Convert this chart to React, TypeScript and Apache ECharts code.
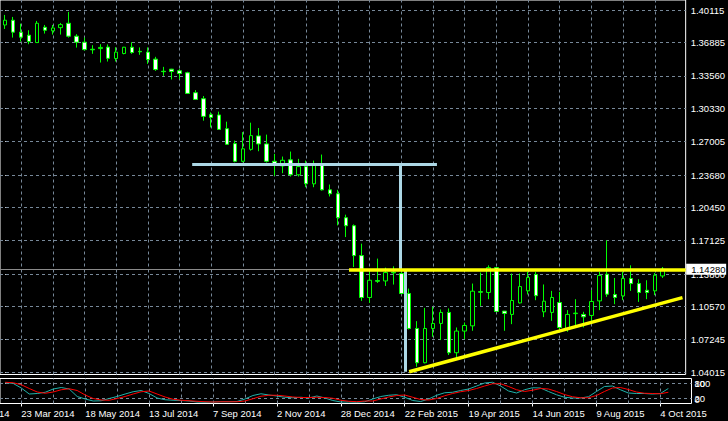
import React, { useEffect, useRef } from "react";
import * as echarts from "echarts";

// Weekly EURUSD-style bars, index 0 = week of 9 Mar 2014
const openP = [
  1.3865, 1.3912, 1.3793, 1.3763, 1.3689, 1.3842, 1.3806, 1.3838, 1.3882, 1.3753,
  1.3693, 1.3623, 1.3629, 1.3644, 1.353, 1.358, 1.3643, 1.3602, 1.3594, 1.3524,
  1.3403, 1.3424, 1.3408, 1.3388, 1.3189, 1.3129, 1.297, 1.2967, 1.283, 1.2681,
  1.2505, 1.2624, 1.2758, 1.2678, 1.2505, 1.2459, 1.2519, 1.237, 1.2452, 1.228,
  1.2479, 1.222, 1.2181, 1.1942, 1.1862, 1.1564, 1.1146, 1.1315, 1.1311, 1.1398,
  1.1385, 1.1186, 1.0837, 1.0495, 1.0837, 1.0887, 1.0997, 1.0595, 1.0811, 1.0863,
  1.1204, 1.1196, 1.1444, 1.101, 1.0977, 1.1092, 1.1212, 1.1375, 1.1003, 1.0997,
  1.1096, 1.0837, 1.0985, 1.0977, 1.0967, 1.1112, 1.1378, 1.1176, 1.1162, 1.1335,
  1.1285, 1.1218, 1.1212, 1.1361,
];
const closeP = [
  1.3912, 1.3793, 1.3743, 1.3699, 1.3882, 1.3812, 1.3835, 1.3868, 1.3753, 1.3693,
  1.3619, 1.3617, 1.3641, 1.3532, 1.3594, 1.3643, 1.359, 1.3597, 1.352, 1.342,
  1.3399, 1.3401, 1.3381, 1.3182, 1.3122, 1.2953, 1.2943, 1.2823, 1.2674, 1.2505,
  1.2629, 1.2761, 1.2678, 1.2505, 1.2477, 1.2515, 1.237, 1.2452, 1.228, 1.2479,
  1.222, 1.2181, 1.1942, 1.1862, 1.1564, 1.1146, 1.1318, 1.1308, 1.1395, 1.1392,
  1.1186, 1.0837, 1.0495, 1.0837, 1.0887, 1.0997, 1.0595, 1.0811, 1.0867, 1.1209,
  1.1199, 1.1444, 1.1007, 1.0987, 1.1116, 1.1255, 1.1345, 1.1164, 1.1109, 1.1146,
  1.0847, 1.0977, 1.099, 1.0953, 1.1106, 1.1365, 1.1179, 1.1146, 1.1335, 1.1285,
  1.1196, 1.1196, 1.1368, 1.1428,
];
const highP = [
  1.3965, 1.3945, 1.3878, 1.3812, 1.3905, 1.3865, 1.3865, 1.3885, 1.3995, 1.3773,
  1.3739, 1.3663, 1.3673, 1.3671, 1.3643, 1.3646, 1.3693, 1.3641, 1.3641, 1.3547,
  1.3447, 1.3427, 1.3424, 1.3398, 1.3215, 1.3156, 1.2993, 1.3, 1.29, 1.2711,
  1.2796, 1.289, 1.2837, 1.2771, 1.2579, 1.2552, 1.2602, 1.2529, 1.2512, 1.2512,
  1.2572, 1.2273, 1.222, 1.1972, 1.1875, 1.1683, 1.1401, 1.1534, 1.1444, 1.1457,
  1.1417, 1.1235, 1.091, 1.1042, 1.1052, 1.1027, 1.1037, 1.0847, 1.0897, 1.1285,
  1.1395, 1.1467, 1.145, 1.101, 1.1385, 1.1385, 1.1401, 1.1401, 1.1276, 1.1212,
  1.1202, 1.102, 1.1129, 1.1003, 1.1219, 1.1401, 1.1716, 1.1341, 1.1401, 1.1467,
  1.1328, 1.1318, 1.1391, 1.145,
];
const lowP = [
  1.3825, 1.3739, 1.3699, 1.3673, 1.3685, 1.3779, 1.3769, 1.3769, 1.3739, 1.3639,
  1.3609, 1.3577, 1.349, 1.35, 1.35, 1.3572, 1.3577, 1.3567, 1.3477, 1.3407,
  1.3358, 1.3321, 1.3325, 1.3176, 1.3116, 1.291, 1.2843, 1.2817, 1.2668, 1.2495,
  1.2495, 1.2611, 1.2605, 1.2492, 1.236, 1.2386, 1.2353, 1.2353, 1.2246, 1.2246,
  1.2213, 1.2154, 1.1865, 1.1749, 1.145, 1.1112, 1.1092, 1.1291, 1.1261, 1.1275,
  1.1179, 1.0827, 1.0455, 1.0489, 1.0754, 1.0721, 1.0572, 1.0539, 1.0731, 1.0814,
  1.1062, 1.1129, 1.1003, 1.0814, 1.088, 1.1086, 1.1176, 1.1119, 1.095, 1.0913,
  1.0821, 1.0804, 1.087, 1.0847, 1.0913, 1.102, 1.1152, 1.1079, 1.1119, 1.1212,
  1.1102, 1.1129, 1.1169, 1.1341,
];
const stochMain = [
  84, 80, 62, 38, 40, 45, 58, 64, 58, 28, 18, 10, 11, 20, 28, 38, 47, 52, 40, 22,
  15, 13, 12, 10, 6, 5, 6, 7, 7, 8, 18, 32, 39, 34, 30, 25, 23, 25, 22, 30,
  22, 12, 6, 6, 5, 7, 18, 28, 33, 35, 25, 12, 8, 18, 33, 43, 45, 52, 58, 70,
  82, 85, 70, 50, 42, 55, 63, 62, 48, 35, 25, 22, 22, 27, 48, 68, 70, 55, 42, 40,
  40, 38, 40, 60,
];
const stochSignal = [
  85, 83, 75, 60, 46, 41, 46, 55, 59, 52, 34, 20, 14, 13, 20, 28, 38, 47, 50, 38,
  26, 17, 13, 11, 9, 7, 6, 7, 7, 7, 10, 19, 29, 33, 33, 30, 26, 24, 24, 25,
  24, 21, 13, 9, 7, 10, 10, 18, 26, 32, 34, 25, 16, 14, 20, 31, 40, 47, 52, 60,
  70, 79, 79, 68, 55, 48, 53, 60, 58, 48, 36, 27, 23, 23, 32, 48, 62, 64, 56, 46,
  41, 40, 39, 45,
];

const dateTickIndex = [-6, 2, 10, 18, 26, 34, 42, 50, 58, 66, 74, 82];
const dateTickLabels = [
  "26 Jan 2014", "23 Mar 2014", "18 May 2014", "13 Jul 2014", "7 Sep 2014", "2 Nov 2014",
  "28 Dec 2014", "22 Feb 2015", "19 Apr 2015", "14 Jun 2015", "9 Aug 2015", "4 Oct 2015",
];
const gridLineIndex = [2, 6, 10, 14, 18, 22, 26, 30, 34, 38, 42, 46, 50, 54, 58, 62, 66, 70, 74, 78, 82];
const priceTicks = [1.40115, 1.36885, 1.3356, 1.3033, 1.27005, 1.2368, 1.2045, 1.17125, 1.138, 1.1057, 1.07245, 1.04015];
const stochLevels = [80, 20];
const stochBounds = [100, 0];
const bidPrice = 1.1428;

// drawn objects: [barIndex, price] end points
const resistanceLine = [[43.4, 1.1424], [85.9, 1.1424]];
const supportLine = [[51.0, 1.04045], [85.5, 1.11451]];
const measureTopLine = [[23.6, 1.2479], [54.5, 1.2479]];
const measureDrop1 = [[49.9, 1.2479], [49.9, 1.1428]];
const measureDrop2 = [[50.5, 1.1418], [50.5, 1.0406]];

export default function App() {
  const ref = useRef<HTMLDivElement>(null);
  useEffect(() => {
    const chart = echarts.init(ref.current!, null, { renderer: "svg" });
    const font = "'Liberation Sans', Arial, sans-serif";
    const FS = 9.5;
    const X_MIN = -0.6625;
    const X_MAX = 85.9;
    const Y_MIN = 1.03777;
    const Y_MAX = 1.411395;
    const candles = openP.map((o, i) => [i, o, closeP[i], lowP[i], highP[i]]);
    const dash = { color: "#778899", width: 1, type: [3, 3], opacity: 1 };

    const mainGrid = [
      ...priceTicks.map((v) => ({ coords: [[X_MIN, v], [X_MAX, v]], lineStyle: dash })),
      ...gridLineIndex.map((k) => ({ coords: [[k, Y_MIN], [k, Y_MAX]], lineStyle: dash })),
    ];
    const subGrid = [
      ...stochLevels.map((v) => ({ coords: [[X_MIN, v], [X_MAX, v]], lineStyle: dash })),
      ...gridLineIndex.map((k) => ({ coords: [[k, 0], [k, 100]], lineStyle: dash })),
    ];
    const yellow = { color: "#ffff00", width: 3.5, opacity: 1 };
    const blue = { color: "#add8e6", width: 3, opacity: 1 };
    const objects = [
      { coords: [[X_MIN, bidPrice], [X_MAX, bidPrice]], lineStyle: { color: "#8a8a8a", width: 1, opacity: 1 } },
      { coords: measureTopLine, lineStyle: blue },
      { coords: measureDrop1, lineStyle: blue },
      { coords: measureDrop2, lineStyle: blue },
      { coords: resistanceLine, lineStyle: yellow },
      { coords: supportLine, lineStyle: yellow },
    ];

    const yLabelBase = { show: true, color: "#fff", fontFamily: font, fontSize: FS };

    chart.setOption({
      animation: false,
      backgroundColor: "#000",
      grid: [
        { left: -1, top: -1, width: 692.5, height: 375.5, show: true, borderColor: "#fff", borderWidth: 1 },
        { left: -1, top: 378.5, width: 692.5, height: 25, show: true, borderColor: "#fff", borderWidth: 1 },
      ],
      xAxis: [
        {
          gridIndex: 0, type: "value", min: X_MIN, max: X_MAX,
          axisLine: { show: false }, axisTick: { show: false }, axisLabel: { show: false }, splitLine: { show: false },
        },
        {
          gridIndex: 1, type: "value", min: X_MIN, max: X_MAX,
          axisLine: { show: false },
          axisTick: { show: true, customValues: dateTickIndex, length: 3, lineStyle: { color: "#fff" } },
          axisLabel: {
            show: true, customValues: dateTickIndex, color: "#fff", fontFamily: font, fontSize: FS,
            align: "left", margin: 4.5, hideOverlap: false,
            formatter: (v: number) => {
              const i = dateTickIndex.indexOf(v);
              return i >= 0 ? dateTickLabels[i] : "";
            },
          },
          splitLine: { show: false },
        },
      ],
      yAxis: [
        {
          gridIndex: 0, type: "value", position: "right", min: Y_MIN, max: Y_MAX,
          axisLine: { show: false },
          axisTick: { show: true, customValues: priceTicks, length: 2, lineStyle: { color: "#fff" } },
          axisLabel: { ...yLabelBase, customValues: priceTicks, margin: 5, formatter: (v: number) => v.toFixed(5) },
          splitLine: { show: false },
        },
        {
          gridIndex: 1, type: "value", position: "right", min: 0, max: 100,
          axisLine: { show: false },
          axisTick: { show: true, customValues: stochLevels, length: 2, lineStyle: { color: "#fff" } },
          axisLabel: { ...yLabelBase, customValues: stochLevels, margin: 3, formatter: (v: number) => String(v) },
          splitLine: { show: false },
        },
        {
          gridIndex: 1, type: "value", position: "right", min: 0, max: 100,
          axisLine: { show: false },
          axisTick: { show: false },
          axisLabel: {
            ...yLabelBase, customValues: stochBounds, margin: 3, showMinLabel: true, showMaxLabel: true,
            formatter: (v: number) => (v === 100 ? "{d|100}" : "{u|0}"),
            rich: {
              d: { padding: [10, 0, 0, 0], color: "#fff", fontFamily: font, fontSize: FS },
              u: { padding: [0, 0, 9, 0], color: "#fff", fontFamily: font, fontSize: FS },
            },
          },
          splitLine: { show: false },
        },
      ],
      series: [
        {
          type: "lines", coordinateSystem: "cartesian2d", xAxisIndex: 0, yAxisIndex: 0, z: 1, silent: true,
          lineStyle: dash, data: mainGrid,
        },
        {
          type: "lines", coordinateSystem: "cartesian2d", xAxisIndex: 1, yAxisIndex: 1, z: 1, silent: true,
          lineStyle: dash, data: subGrid,
        },
        {
          type: "candlestick", xAxisIndex: 0, yAxisIndex: 0, z: 2, silent: true, barWidth: 4,
          data: candles,
          itemStyle: {
            color: "#000", color0: "#fff", borderColor: "#00ff00", borderColor0: "#00ff00",
            borderColorDoji: "#00ff00", borderWidth: 1,
          },
        },
        {
          type: "lines", coordinateSystem: "cartesian2d", xAxisIndex: 0, yAxisIndex: 0, z: 5, silent: true,
          lineStyle: { opacity: 1 }, data: objects,
        },
        {
          type: "line", xAxisIndex: 1, yAxisIndex: 1, z: 3, silent: true, symbol: "none",
          data: stochMain.map((v, i) => [i, v]), lineStyle: { color: "#20b2aa", width: 1 },
        },
        {
          type: "line", xAxisIndex: 1, yAxisIndex: 1, z: 4, silent: true, symbol: "none",
          data: stochSignal.map((v, i) => [i, v]), lineStyle: { color: "#ff0000", width: 1 },
        },
      ],
    });

    const p = chart.convertToPixel({ gridIndex: 0 }, [0, bidPrice]) as number[];
    const gx = chart.convertToPixel({ gridIndex: 0 }, [X_MAX, bidPrice]) as number[];
    const firstTick = chart.convertToPixel({ gridIndex: 1 }, [dateTickIndex[0], 0]) as number[];
    chart.setOption({
      graphic: [
        { type: "rect", z: 100, shape: { x: gx[0] + 0.5, y: p[1] - 5.5, width: 40, height: 11 }, style: { fill: "#fff" } },
        {
          type: "text", z: 101, x: gx[0] + 5.5, y: p[1],
          style: { text: bidPrice.toFixed(5), fill: "#000", font: `${FS}px ${font}`, verticalAlign: "middle" },
        },
        {
          type: "text", z: 101, x: firstTick[0], y: firstTick[1] + 4.5,
          style: { text: dateTickLabels[0], fill: "#fff", font: `${FS}px ${font}`, verticalAlign: "top", align: "left" },
        },
      ],
    });

    return () => chart.dispose();
  }, []);
  return (
    <div
      ref={ref}
      style={{ position: "fixed", left: 0, top: 0, width: 728, height: 421, background: "#000" }}
    />
  );
}
